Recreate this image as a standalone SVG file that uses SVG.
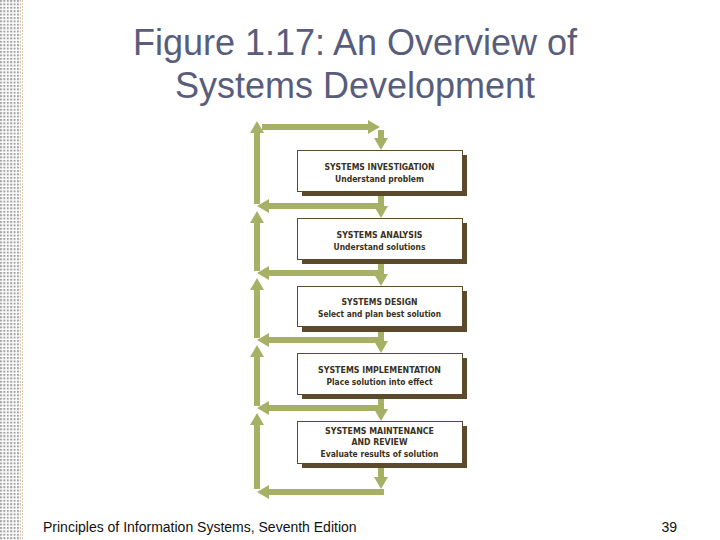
<svg xmlns="http://www.w3.org/2000/svg" width="720" height="540" viewBox="0 0 720 540">
<style>
.title{font-family:"Liberation Sans",Arial,sans-serif;font-size:36px;fill:#595d7c;text-anchor:middle}
.foot{font-family:"Liberation Sans",Arial,sans-serif;font-size:14px;fill:#111}
.box{fill:#fff;stroke:#5b4a2c;stroke-width:1}
.shadow{fill:#5b4a2c}
.bt{font-family:"DejaVu Sans Condensed","Liberation Sans",sans-serif;font-weight:bold;font-size:8.5px;fill:#3a3122;text-anchor:middle}
.ar{stroke:#a7b166;stroke-width:6;fill:none;marker-end:url(#ah)}
</style>
<defs>
<pattern id="dots" width="3.4" height="3.4" patternUnits="userSpaceOnUse">
<rect width="2" height="2" fill="#a2a2a2"/>
</pattern>
<marker id="ah" markerUnits="userSpaceOnUse" viewBox="0 -7 12 14" markerWidth="12" markerHeight="14" refX="0" refY="0" orient="auto">
<path d="M0,-7 L12,0 L0,7 Z" fill="#a7b166"/>
</marker>
</defs>
<rect width="720" height="540" fill="#fff"/>
<rect x="0" y="0" width="21" height="540" fill="url(#dots)"/>
<line x1="22.5" y1="0" x2="22.5" y2="540" stroke="#e6c9a2" stroke-width="1" stroke-dasharray="2 1"/>

<text class="title" x="355" y="55">Figure 1.17: An Overview of</text>
<text class="title" x="355" y="98">Systems Development</text>

<g id="connectors">
<line class="ar" x1="257" y1="204" x2="257" y2="133"/>
<line class="ar" x1="257" y1="271" x2="257" y2="223"/>
<line class="ar" x1="257" y1="338" x2="257" y2="290"/>
<line class="ar" x1="257" y1="406" x2="257" y2="357"/>
<line class="ar" x1="257" y1="489" x2="257" y2="425"/>
<line class="ar" x1="262" y1="127" x2="368" y2="127"/>
<line class="ar" x1="384" y1="206" x2="269" y2="206"/>
<line class="ar" x1="384" y1="273" x2="269" y2="273"/>
<line class="ar" x1="384" y1="340" x2="269" y2="340"/>
<line class="ar" x1="384" y1="408" x2="269" y2="408"/>
<line class="ar" x1="384" y1="492" x2="269" y2="492"/>
<line class="ar" x1="381" y1="130" x2="381" y2="138"/>
<line class="ar" x1="381" y1="196" x2="381" y2="206"/>
<line class="ar" x1="381" y1="263" x2="381" y2="274"/>
<line class="ar" x1="381" y1="330" x2="381" y2="341"/>
<line class="ar" x1="381" y1="398" x2="381" y2="409"/>
<line class="ar" x1="381" y1="466" x2="381" y2="477"/>
</g>

<g id="investigation">
<rect class="shadow" x="302" y="155" width="165" height="41"/>
<rect class="box" x="297.5" y="150.5" width="165" height="41"/>
<text class="bt" x="379.5" y="169.5" textLength="110" lengthAdjust="spacingAndGlyphs">SYSTEMS INVESTIGATION</text>
<text class="bt" x="379.5" y="181.5" textLength="89" lengthAdjust="spacingAndGlyphs">Understand problem</text>
</g>
<g id="analysis">
<rect class="shadow" x="302" y="223" width="165" height="41"/>
<rect class="box" x="297.5" y="218.5" width="165" height="41"/>
<text class="bt" x="379.5" y="237.5" textLength="86" lengthAdjust="spacingAndGlyphs">SYSTEMS ANALYSIS</text>
<text class="bt" x="379.5" y="249.5" textLength="92" lengthAdjust="spacingAndGlyphs">Understand solutions</text>
</g>
<g id="design">
<rect class="shadow" x="302" y="291" width="165" height="41"/>
<rect class="box" x="297.5" y="286.5" width="165" height="40"/>
<text class="bt" x="379.5" y="304.5" textLength="76" lengthAdjust="spacingAndGlyphs">SYSTEMS DESIGN</text>
<text class="bt" x="379.5" y="316.5" textLength="123" lengthAdjust="spacingAndGlyphs">Select and plan best solution</text>
</g>
<g id="implementation">
<rect class="shadow" x="302" y="358" width="165" height="41"/>
<rect class="box" x="297.5" y="353.5" width="165" height="41"/>
<text class="bt" x="379.5" y="372.5" textLength="123" lengthAdjust="spacingAndGlyphs">SYSTEMS IMPLEMENTATION</text>
<text class="bt" x="379.5" y="384.5" textLength="106" lengthAdjust="spacingAndGlyphs">Place solution into effect</text>
</g>
<g id="maintenance">
<rect class="shadow" x="302" y="426" width="165" height="42"/>
<rect class="box" x="297.5" y="421.5" width="165" height="42"/>
<text class="bt" x="379.5" y="433.5" textLength="109" lengthAdjust="spacingAndGlyphs">SYSTEMS MAINTENANCE</text>
<text class="bt" x="379.5" y="445" textLength="56" lengthAdjust="spacingAndGlyphs">AND REVIEW</text>
<text class="bt" x="379.5" y="457" textLength="118" lengthAdjust="spacingAndGlyphs">Evaluate results of solution</text>
</g>

<text class="foot" x="43" y="532">Principles of Information Systems, Seventh Edition</text>
<text class="foot" x="677" y="532" text-anchor="end">39</text>
</svg>
